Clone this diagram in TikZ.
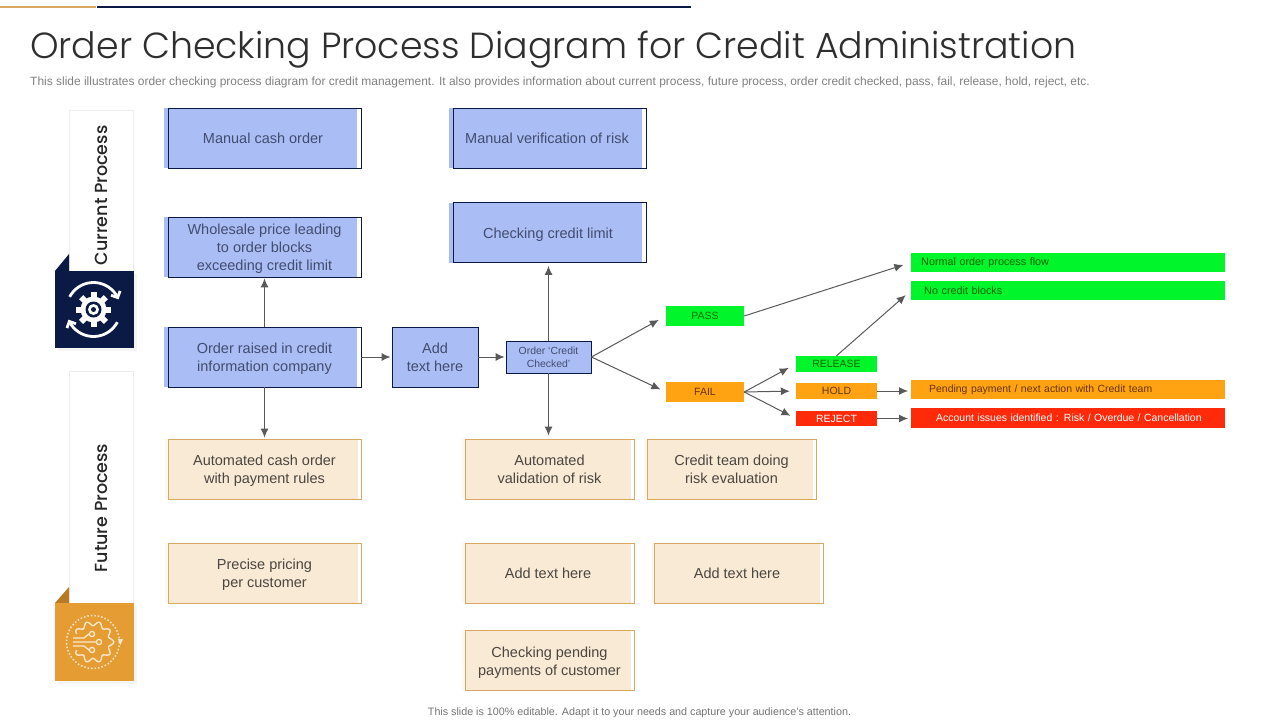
\documentclass[tikz,border=0pt]{standalone}
\usepackage{fontspec}
\setmainfont{Liberation Sans}
\newfontfamily\headfont{Poppins Light}
\newfontfamily\sidefont{Poppins Medium}
\usetikzlibrary{arrows.meta,shadows}
\definecolor{navy}{HTML}{0A1A45}
\definecolor{amber}{HTML}{E59C33}
\definecolor{amberdark}{HTML}{B87A22}
\definecolor{boxblue}{HTML}{ABBDF5}
\definecolor{boxpeach}{HTML}{F9EAD5}
\definecolor{peachline}{HTML}{D9A860}
\definecolor{passgreen}{HTML}{00F52A}
\definecolor{failorange}{HTML}{FFA312}
\definecolor{rejectred}{HTML}{FF2A0A}
\definecolor{arrowgray}{HTML}{595959}
\definecolor{cream}{HTML}{FBE8CC}
\definecolor{bluetext}{HTML}{424C6E}
\definecolor{peachtext}{HTML}{4A4640}
\newcommand{\topgap}{\rule{0pt}{14.5pt}}

\begin{document}
\begin{tikzpicture}[
x=1pt,y=-1pt,
mybox/.style={
  inner sep=0pt,
  align=center,
  font=\fontsize{14.5}{18}\selectfont
  },
boxtext/.style={
  execute at end node={\rule[-3pt]{0pt}{3pt}}
  },
bluebox/.style={
  mybox,
  boxtext,
  draw=navy,
  line width=0.9pt,
  text=bluetext,
  preaction={fill=boxblue,transform canvas={xshift=-4pt}},
  minimum width=193pt,
  minimum height=60pt
  },
peachbox/.style={
  mybox,
  boxtext,
  draw=peachline,
  line width=0.9pt,
  text=peachtext,
  preaction={fill=boxpeach!35,transform canvas={xshift=-3pt}},
  path picture={\fill[boxpeach] (path picture bounding box.south west) rectangle ([xshift=-3pt]path picture bounding box.north east);},
  minimum width=193pt,
  minimum height=60pt
  },
statbox/.style={
  inner sep=0pt,
  font=\fontsize{10.5}{12}\selectfont,
  minimum width=80pt
  },
barbox/.style={
  inner sep=0pt,
  anchor=west,
  minimum width=314pt,
  minimum height=19pt,
  text width=314pt,
  font=\fontsize{10.8}{12}\selectfont
  },
sidepanel/.style={
  fill=white,
  draw=black!7,
  minimum width=64pt,
  inner sep=0pt,
  drop shadow={opacity=0.08,shadow xshift=1pt,shadow yshift=-2pt}
  },
sidelabel/.style={
  rotate=90,
  inner sep=0pt,
  font=\sidefont\fontsize{17.5}{20}\selectfont,
  text=black!85
  },
flow/.style={
  -{Latex[length=9pt,width=8pt]},
  color=arrowgray,
  line width=1pt
  }
]
\useasboundingbox (0,0) rectangle (1280,720);

% top rules and headings
\fill[peachline] (0,5.5) rectangle (96,8);
\fill[navy] (97,5.5) rectangle (691,8);
\node[anchor=base west,inner sep=0pt,text=black!82,font=\headfont\fontsize{36.3}{40}\selectfont] (title) at (30,58.5)
  {Order Checking Process Diagram for Credit Administration};
\node[anchor=west,inner sep=0pt,text=black!50,font=\fontsize{11.97}{14}\selectfont] (subtitle) at (30,82.5)
  {This slide illustrates order checking process diagram for credit management. It also provides information about current process, future process, order credit checked, pass, fail, release, hold, reject, etc.};
\node[inner sep=0pt,text=black!55,font=\fontsize{10.73}{12}\selectfont] (footer) at (639.5,712.5)
  {This slide is 100\% editable. Adapt it to your needs and capture your audience's attention.};

% side panels
\node[sidepanel,minimum height=170pt] (curpanel) at (101,195) {};
\node[sidepanel,minimum height=232pt] (futpanel) at (101,487) {};
\fill[navy] (55,271) -- (69,254) -- (69,271) -- cycle;
\fill[amberdark] (55,603) -- (69,587) -- (69,603) -- cycle;
\node[fill=navy,minimum width=79pt,minimum height=77pt,inner sep=0pt,drop shadow={opacity=0.08}] (curicon) at (94.5,309.5) {};
\node[fill=amber,minimum width=79pt,minimum height=78pt,inner sep=0pt,drop shadow={opacity=0.08}] (futicon) at (94.5,642) {};
\node[sidelabel] (curlabel) at (101,195.5) {Current Process};
\node[sidelabel] (futlabel) at (101,508) {Future Process};

% gear icon
\foreach \Angle in {0,45,...,315}
  \fill[white,rotate around={\Angle:(93.5,309.5)}] (90.5,292) rectangle (96.5,300);
\fill[white] (93.5,309.5) circle (13);
\fill[navy] (93.5,309.5) circle (8);
\fill[white] (93.5,309.5) circle (5.5);
\fill[navy] (93.5,309.5) circle (2.5);
\draw[white,line width=2.8pt,-{Straight Barb[length=5pt,width=10pt]}]
  plot[domain=-152:-22,samples=20] ({93.5+27*cos(\x)},{309.5+27*sin(\x)});
\draw[white,line width=2.8pt,-{Straight Barb[length=5pt,width=10pt]}]
  plot[domain=28:158,samples=20] ({93.5+27*cos(\x)},{309.5+27*sin(\x)});

% circuit icon
\draw[cream,line width=1.5pt,dotted] (93,642) circle (26.5);
\fill[cream] (119,639) -- (123,639) -- (120.5,645) -- (118,639) -- cycle;
\draw[cream,line width=1.4pt,domain=0:360,samples=121,smooth] plot ({93+18.5*cos(\x)*(1+0.12*cos(10*\x))},{642+18.5*sin(\x)*(1+0.12*cos(10*\x))});
\fill[amber] (70,634) rectangle (82,650);
\draw[cream,line width=1.3pt]
  (73,638) -- (84,638) -- (89,634)
  (73,642) -- (96,642)
  (73,646) -- (84,646) -- (89,650);
\foreach \Px/\Py in {92/634,99/642,92/650}
  \draw[cream,line width=1.3pt] (\Px,\Py) circle (2.6);

% current process boxes
\foreach \Name/\Xpos/\Ypos/\Text in {
  cashorder/264.5/138/{\topgap Manual cash order\hspace{3pt}},
  wholesale/264.5/247/{\topgap Wholesale price leading\\to order blocks\\exceeding credit limit},
  raised/264.5/357/{\topgap Order raised in credit\\information company},
  verify/549.5/138/{\topgap Manual verification of risk\hspace{5pt}},
  limit/549.5/232.5/{\topgap Checking credit limit\hspace{3pt}}}
  \node[bluebox] (\Name) at (\Xpos,\Ypos) {\Text};
\node[mybox,boxtext,draw=navy,line width=0.9pt,fill=boxblue,text=bluetext,minimum width=86pt,minimum height=60pt] (addtext) at (435,357) {\topgap Add\\text here};
\node[mybox,draw=navy,line width=0.9pt,fill=boxblue,text=bluetext,minimum width=85pt,minimum height=32pt,font=\fontsize{10.4}{13}\selectfont] (checked) at (548.5,357) {Order `Credit\\Checked'};

% future process boxes
\node[peachbox] (autocash) at (264.5,469) {\topgap Automated cash order\\with payment rules};
\node[peachbox] (pricing) at (264.5,573) {\topgap Precise pricing\\per customer};
\foreach \Name/\Xpos/\Ypos/\Text in {
  autorisk/549.5/469/{\topgap Automated\\validation of risk},
  creditteam/731.5/469/{\topgap Credit team doing\\risk evaluation},
  addone/549.5/573/{\topgap Add text here\hspace{3pt}},
  addtwo/738.5/573/{\topgap Add text here\hspace{3pt}},
  pending/549.5/660.5/{\topgap Checking pending\\payments of customer}}
  \node[peachbox,minimum width=169pt] (\Name) at (\Xpos,\Ypos) {\Text};

% outcomes
\node[statbox,fill=passgreen,text=green!45!black,minimum width=78pt,minimum height=20pt] (pass) at (705,316) {PASS};
\node[statbox,fill=failorange,text=orange!40!black,minimum width=78pt,minimum height=20pt] (fail) at (705,392) {FAIL};
\node[statbox,fill=passgreen,text=green!40!black,minimum width=81pt,minimum height=16pt] (release) at (836.5,364) {RELEASE};
\node[statbox,fill=failorange,text=orange!40!black,minimum width=81pt,minimum height=16pt] (hold) at (836.5,391) {HOLD};
\node[statbox,fill=rejectred,text=white,minimum width=81pt,minimum height=15pt] (reject) at (836.5,418.5) {REJECT};
\node[barbox,fill=passgreen,text=green!40!black,align=left] (normal) at (911,262.5) {\hspace*{10pt}Normal order process flow};
\node[barbox,fill=passgreen,text=green!40!black,align=left] (noblock) at (911,290.5) {\hspace*{13pt}No credit blocks};
\node[barbox,fill=failorange,text=orange!40!black,align=left,font=\fontsize{10.45}{12}\selectfont] (pendbar) at (911,389.5) {\hspace*{18pt}Pending payment / next action with Credit team};
\node[barbox,fill=rejectred,text=white,align=left,minimum height=20pt,font=\fontsize{10.45}{12}\selectfont] (issues) at (911,418) {\hspace*{25pt}Account issues identified : Risk / Overdue / Cancellation};

% connectors
\path[flow]
  (raised) edge[shorten >=1pt] (wholesale)
  (raised) edge[shorten >=1pt] (autocash)
  (raised) edge[shorten >=1pt] (addtext)
  (addtext) edge[shorten >=1pt] (checked)
  (checked) edge[shorten >=3pt] (checked |- limit.south)
  (checked) edge[shorten >=3pt] (checked |- autorisk.north)
  (checked.east) edge[shorten >=8pt] (pass.west)
  (checked.east) edge[shorten >=6pt] (fail.west)
  (pass.east) edge[shorten >=8pt] (normal.west)
  (release.north) edge[shorten >=7pt] (noblock.west)
  (fail.east) edge[shorten >=8pt] (release.west)
  (fail.east) edge[shorten >=6pt] (hold.west)
  (fail.east) edge[shorten >=6pt] (reject.west)
  (hold.east) edge[shorten >=3pt] (hold.east -| pendbar.west)
  (reject.east) edge[shorten >=3pt] (reject.east -| issues.west);
\end{tikzpicture}
\end{document}
